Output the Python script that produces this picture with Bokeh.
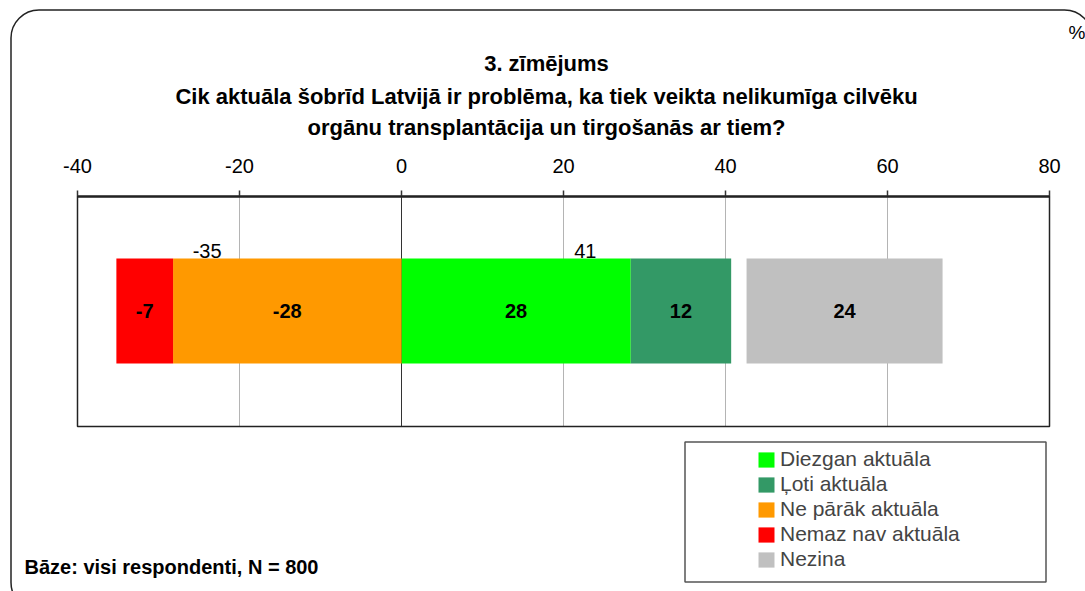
from bokeh.plotting import figure
from bokeh.models import (Range1d, Label, BoxAnnotation, Legend, LegendItem,
                          ColumnDataSource, FixedTicker, LinearAxis)
from bokeh.embed import file_html
from bokeh.resources import INLINE
from bokeh.core.properties import value

# ---------------- data ----------------
title_lines = [
    "3. zīmējums",
    "Cik aktuāla šobrīd Latvijā ir problēma, ka tiek veikta nelikumīga cilvēku",
    "orgānu transplantācija un tirgošanās ar tiem?",
]
categories = ["Diezgan aktuāla", "Ļoti aktuāla", "Ne pārāk aktuāla", "Nemaz nav aktuāla", "Nezina"]
values = [28.3, 12.4, -28.2, -7.0, 24.2]
colors = ["#00FF00", "#339966", "#FF9900", "#FF0000", "#C0C0C0"]
ticks = [-40, -20, 0, 20, 40, 60, 80]
base_note = "Bāze: visi respondenti, N = 800"
unit_label = "%"

# ---------------- layout (pixel geometry) ----------------
FONT = "Liberation Sans"
W, H = 1085, 591
FL, FR, FT, FB = 77, 1049, 196, 426          # plot-area edges (px)
XMIN, XMAX = -40, 80
GAP = 1.9                                     # gap before the "Nezina" bar
BAR_Y, BAR_H = 310.5, 105

def px2x(px):
    return XMIN + (px - FL) * (XMAX - XMIN) / (FR - FL)

# the frame covers the whole canvas; y data units == pixels from the top
p = figure(width=W, height=H, x_range=Range1d(px2x(0), px2x(W)), y_range=Range1d(H, 0),
           x_axis_location=None, y_axis_location=None,
           toolbar_location=None, output_backend="svg", min_border=0)
p.title.text = ""
p.background_fill_color = "white"
p.border_fill_color = "white"
p.outline_line_color = None
p.xgrid.visible = False
p.ygrid.visible = False

# gridlines inside the plot area
grid_x = [t for t in ticks if t not in (XMIN, XMAX, 0)]
p.segment(x0=grid_x, x1=grid_x, y0=[FT] * len(grid_x), y1=[FB] * len(grid_x),
          line_color="#b4b4b4", line_width=1)
p.segment(x0=[0], x1=[0], y0=[FT], y1=[FB], line_color="#333333", line_width=1)

# ---------------- bars ----------------
lefts, rights = [], []
pos_total = 0.0
neg_total = 0.0
for cat, v in zip(categories, values):
    if cat == "Nezina":
        continue
    if v >= 0:
        lefts.append(pos_total); rights.append(pos_total + v); pos_total += v
    else:
        rights.append(neg_total); lefts.append(neg_total + v); neg_total += v
lefts.append(pos_total + GAP)
rights.append(pos_total + GAP + values[-1])

renderers = []
for cat, l, r, c in zip(categories, lefts, rights, colors):
    rr = p.hbar(y=[BAR_Y], left=[l], right=[r], height=BAR_H,
                fill_color=c, line_color=None)
    renderers.append(rr)

lab_src = ColumnDataSource(dict(
    x=[(l + r) / 2 for l, r in zip(lefts, rights)],
    y=[BAR_Y] * len(values),
    t=[f"{round(v):d}" for v in values]))
p.text(x="x", y="y", text="t", source=lab_src, text_font=value(FONT),
       text_font_size="20px", text_font_style="bold", text_align="center",
       text_baseline="middle", text_color="black")

tot_src = ColumnDataSource(dict(x=[-24, 22.7], y=[250, 250],
                                t=[f"{round(neg_total):d}", f"{round(pos_total):d}"]))
p.text(x="x", y="y", text="t", source=tot_src, text_font=value(FONT),
       text_font_size="20px", text_align="center", text_baseline="middle",
       text_color="black")

# plot-area box
p.add_layout(BoxAnnotation(left=XMIN, right=XMAX, top=FT, bottom=FB,
                           fill_color=None, line_color="#222222", line_alpha=1.0,
                           line_width=1.5))

# top axis drawn at the plot-area top edge
ax = LinearAxis(fixed_location=FT, bounds=(XMIN, XMAX))
ax.ticker = FixedTicker(ticks=ticks)
ax.major_label_overrides = {t: str(t) for t in ticks}
ax.major_label_text_font = FONT
ax.major_label_text_font_size = "20px"
ax.major_label_text_color = "black"
ax.axis_line_width = 2.5
ax.axis_line_color = "#333333"
ax.major_tick_line_color = "#333333"
ax.major_tick_line_width = 1.5
ax.major_tick_out = 6
ax.major_tick_in = 0
ax.minor_tick_line_color = None
ax.major_label_standoff = 18
p.add_layout(ax, "above")

# ---------------- outer frame / texts ----------------
p.add_layout(BoxAnnotation(left=px2x(10.5), right=px2x(1092), top=9.5, bottom=610,
                           fill_color=None, line_color="#222222", line_alpha=1.0,
                           line_width=1.5, border_radius=28))

for line, ty in zip(title_lines, [63, 96, 127]):
    p.add_layout(Label(x=px2x(546), y=ty, text=line, text_font=FONT,
                       text_font_size="22px", text_font_style="bold",
                       text_align="center", text_baseline="middle", text_color="black"))

p.add_layout(Label(x=px2x(24), y=566, text=base_note, text_font=FONT,
                   text_font_size="20px", text_font_style="bold",
                   text_align="left", text_baseline="middle", text_color="black"))
p.add_layout(Label(x=px2x(1068), y=32, text=unit_label, text_font=FONT,
                   text_font_size="19px", text_align="left", text_baseline="middle",
                   text_color="black"))

# ---------------- legend ----------------
p.add_layout(BoxAnnotation(left=px2x(684.5), right=px2x(1045.5), top=441.5, bottom=581.5,
                           fill_color=None, line_color="#555555", line_alpha=1.0,
                           line_width=1.5))
legend = Legend(items=[LegendItem(label=c, renderers=[r]) for c, r in zip(categories, renderers)],
                location=(756, H - 571), padding=0, margin=0, spacing=1,
                glyph_width=20, glyph_height=19, label_height=22, label_standoff=4,
                label_text_font=FONT, label_text_font_size="21px",
                border_line_alpha=0, background_fill_alpha=0)
p.add_layout(legend, "center")

open("out.html", "w").write(file_html(p, INLINE))
